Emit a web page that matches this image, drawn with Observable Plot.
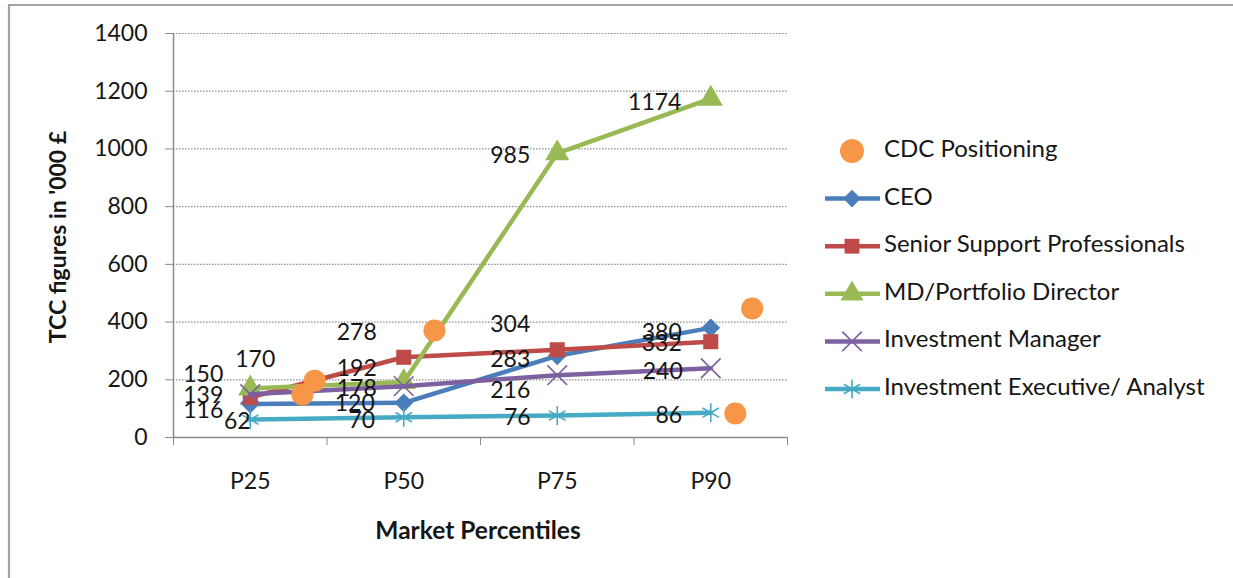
<!DOCTYPE html>
<html>
<head>
<meta charset="utf-8">
<script src="https://cdn.jsdelivr.net/npm/d3@7"></script>
<script src="https://cdn.jsdelivr.net/npm/@observablehq/plot@0.6"></script>
<style>
  html, body { margin: 0; padding: 0; background: #fff; }
  #chart { position: relative; width: 1233px; height: 578px; overflow: hidden; }
  svg { font-family: Lato, "Open Sans", sans-serif; }
</style>
</head>
<body>
<div id="chart"></div>
<script>
// Market percentile categories (placed at x = 1..4)
const percentiles = ["P25", "P50", "P75", "P90"];

// TCC figures in '000 £ per role and percentile
const seriesNames = [
  "CEO",
  "Senior Support Professionals",
  "MD/Portfolio Director",
  "Investment Manager",
  "Investment Executive/ Analyst"
];
const ceo = [116, 120, 283, 380];
const seniorSupport = [139, 278, 304, 332];
const mdPortfolio = [170, 192, 985, 1174];
const investmentManager = [150, 178, 216, 240];
const investmentExecutive = [62, 70, 76, 86];

// CDC positioning points (x on the percentile axis, y in '000 £)
const cdcX = [1.34, 1.42, 2.2, 4.16, 4.27];
const cdcY = [149, 197, 371, 83, 447];

const yTicks = [0, 200, 400, 600, 800, 1000, 1200, 1400];

// ---- styling ----
const colors = ["#4A7EBB", "#BE4B48", "#98B954", "#7D60A0", "#46AAC5"];
const symbols = ["diamond2", "square", "triangle", "times", "asterisk"];
const cdcColor = "#F79646";
const textColor = "#161616";
const fontSize = 23;

// label nudges in pixels [dx, dy] relative to each point
const labelNudge = [
  [[-47, 7], [-49, 1], [-47, 4], [-49, 5]],
  [[-47, -2], [-47, -25], [-47, -25], [-49, 2]],
  [[5, -29], [-47, -13], [-47, 2], [-56, 4]],
  [[-47, -20], [-47, 2], [-47, 15], [-48, 3]],
  [[-13, 2], [-42, 3], [-40, 2], [-42, 3]]
];

const W = 1233, H = 578;
const mLeft = 173, mRight = 446, mTop = 33, mBottom = 141;
const plotW = W - mLeft - mRight, plotH = H - mTop - mBottom;
const xUnitPerPx = 4 / plotW;
const yUnitPerPx = 1400 / plotH;

const values = [ceo, seniorSupport, mdPortfolio, investmentManager, investmentExecutive];
const rows = [];
values.forEach((vals, s) => {
  vals.forEach((v, i) => {
    const [dx, dy] = labelNudge[s][i];
    rows.push({
      series: seriesNames[s], s, x: i + 1, value: v,
      lx: i + 1 + dx * xUnitPerPx, ly: v - dy * yUnitPerPx
    });
  });
});
const cdc = cdcX.map((x, i) => ({x, value: cdcY[i]}));

const marks = [
  Plot.gridY(yTicks, {stroke: "#8c8c8c", strokeOpacity: 1, strokeDasharray: "1.5,1.5", strokeWidth: 1.2}),
  Plot.ruleX([0.5], {stroke: "#8c8c8c", strokeWidth: 1.5}),
  Plot.ruleY([0], {stroke: "#8c8c8c", strokeWidth: 1.5}),
  Plot.axisY({ticks: yTicks, tickSize: 8, tickPadding: 18, tickFormat: d => String(d),
              stroke: "#8c8c8c", strokeOpacity: 1, fontSize, fill: textColor, label: null}),
  Plot.axisX({ticks: [0.5, 1.5, 2.5, 3.5, 4.5], tickSize: 8, tickFormat: () => "", stroke: "#8c8c8c",
              strokeOpacity: 1, label: null}),
  Plot.axisX({ticks: [1, 2, 3, 4], tickSize: 0, tickPadding: 35, tickFormat: (d) => percentiles[d - 1],
              fontSize, fill: textColor, label: null})
];

seriesNames.forEach((name, s) => {
  const data = rows.filter(r => r.s === s);
  marks.push(Plot.line(data, {x: "x", y: "value", stroke: colors[s], strokeWidth: 4.5}));
  const hollow = symbols[s] === "times" || symbols[s] === "asterisk";
  marks.push(Plot.dot(data, hollow
    ? {x: "x", y: "value", symbol: () => symbols[s], r: 9, stroke: colors[s], strokeWidth: 1.6}
    : {x: "x", y: "value", symbol: () => symbols[s], r: symbols[s] === "triangle" ? 9 : 8.5,
       fill: colors[s], stroke: "none"}));
});
marks.push(Plot.dot(cdc, {x: "x", y: "value", r: 11, fill: cdcColor, stroke: "none"}));
marks.push(Plot.text(rows, {x: "lx", y: "ly", text: d => String(d.value), fontSize,
                            fill: textColor, textAnchor: "middle", lineAnchor: "middle"}));

const plot = Plot.plot({
  width: W, height: H,
  marginLeft: mLeft, marginRight: mRight, marginTop: mTop, marginBottom: mBottom,
  x: {type: "linear", domain: [0.5, 4.5]},
  y: {type: "linear", domain: [0, 1400]},
  symbol: {type: "identity"},
  style: {fontFamily: "Lato, 'Open Sans', sans-serif", background: "#fff", overflow: "visible"},
  marks
});
document.getElementById("chart").appendChild(plot);

// outer chart border, axis titles and legend drawn into the same svg
const svg = d3.select(plot);
svg.insert("path", ":first-child")
  .attr("d", `M9,${H + 5}V5H${W + 5}`)
  .attr("fill", "none").attr("stroke", "#a3a3a3").attr("stroke-width", 2.2);

svg.append("text")
  .attr("transform", `translate(60,237) rotate(-90)`)
  .attr("text-anchor", "middle").attr("dominant-baseline", "middle")
  .attr("font-weight", "bold").attr("font-size", 23).attr("fill", textColor)
  .text("TCC figures in '000 £");

svg.append("text")
  .attr("x", 478).attr("y", 533)
  .attr("text-anchor", "middle").attr("dominant-baseline", "middle")
  .attr("font-weight", "bold").attr("font-size", 24.5).attr("fill", textColor)
  .text("Market Percentiles");

const legendItems = ["CDC Positioning", ...seriesNames];
const legend = svg.append("g").attr("transform", "translate(825,151)");
legendItems.forEach((name, i) => {
  const g = legend.append("g").attr("transform", `translate(0,${i * 47.6})`);
  if (i === 0) {
    g.append("circle").attr("cx", 27).attr("cy", 0).attr("r", 12).attr("fill", cdcColor);
  } else {
    const s = i - 1;
    g.append("line").attr("x1", 0).attr("x2", 55).attr("y1", 0).attr("y2", 0)
      .attr("stroke", colors[s]).attr("stroke-width", 4.5);
    const sym = {
      diamond2: d3.symbol(d3.symbolDiamond2, 200),
      square: d3.symbol(d3.symbolSquare, 220),
      triangle: d3.symbol(d3.symbolTriangle, 230),
      times: d3.symbol(d3.symbolTimes, 250),
      asterisk: d3.symbol(d3.symbolAsterisk, 250)
    }[symbols[s]];
    const hollow = symbols[s] === "times" || symbols[s] === "asterisk";
    g.append("path").attr("transform", "translate(27,0)").attr("d", sym())
      .attr("fill", hollow ? "none" : colors[s])
      .attr("stroke", hollow ? colors[s] : "none").attr("stroke-width", 1.6);
  }
  g.append("text").attr("x", 59).attr("y", 0)
    .attr("text-anchor", "start").attr("dominant-baseline", "middle")
    .attr("font-size", 24).attr("fill", textColor).text(name);
});
</script>
</body>
</html>
